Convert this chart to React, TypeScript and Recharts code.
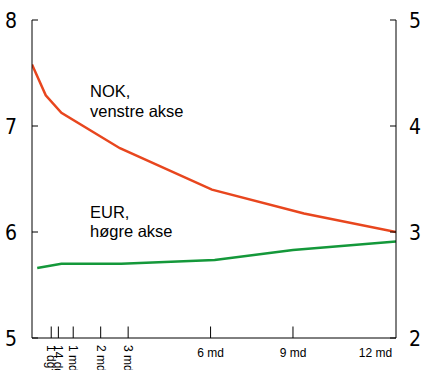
import { LineChart, Line, XAxis, YAxis } from "recharts";

// x in months (negative = very short end), y in percent
const nokMonths = [-0.5, 0, 0.57, 2.7, 6.05, 9.4, 12.75];
const nokRates = [7.58, 7.29, 7.125, 6.79, 6.4, 6.175, 6.0];
const eurMonths = [-0.31, 0.57, 2.75, 6.15, 9, 12.75];
const eurRates = [2.66, 2.7, 2.7, 2.736, 2.83, 2.91];

const xTicks = [0.2, 0.46, 1, 2, 3, 6, 9, 12];
const xTickLabels = ["1 dg", "14 dg", "1 md", "2 md", "3 md", "6 md", "9 md", "12 md"];
const leftTicks = [5, 6, 7, 8];
const rightTicks = [2, 3, 4, 5];

const nokData = nokMonths.map((m, i) => ({ m, nok: nokRates[i] }));
const eurData = eurMonths.map((m, i) => ({ m, eur: eurRates[i] }));

const SANS = "'Liberation Sans', Arial, sans-serif";
const NARROW = "'Liberation Sans Narrow', 'DejaVu Sans Condensed', 'Liberation Sans', sans-serif";

const LeftTick = ({ x, y, payload }: any) => (
  <g>
    <line x1={x} x2={x + 6} y1={y} y2={y} stroke="#000" />
    <text x={x - 15} y={y} dy={7.5} textAnchor="end" fontSize={21} fontFamily={NARROW} fill="#000">
      {payload.value}
    </text>
  </g>
);

const RightTick = ({ x, y, payload }: any) => (
  <g>
    <line x1={x - 6} x2={x} y1={y} y2={y} stroke="#000" />
    <text x={x + 13} y={y} dy={7.5} textAnchor="start" fontSize={21} fontFamily={NARROW} fill="#000">
      {payload.value}
    </text>
  </g>
);

const BottomTick = ({ x, y, payload }: any) => {
  const i = xTicks.indexOf(payload.value);
  const label = xTickLabels[i];
  const vertical = i < 5;
  const last = i === xTicks.length - 1;
  return (
    <g>
      {!last && <line x1={x} x2={x} y1={y} y2={y - 11.5} stroke="#000" />}
      {vertical ? (
        <text
          transform={`translate(${x - 4},${y + 7}) rotate(90)`}
          fontSize={12}
          fontFamily={SANS}
          fill="#000"
        >
          {label}
        </text>
      ) : (
        <text x={x} y={y + 18.5} textAnchor="middle" fontSize={12} fontFamily={SANS} fill="#000">
          {label}
        </text>
      )}
    </g>
  );
};

export default function App() {
  return (
    <div style={{ position: "absolute", left: 0, top: 0, width: 421, height: 370, background: "#fff" }}>
      <LineChart width={421} height={370} margin={{ top: 20, right: 0, left: 0, bottom: 0 }}>
        <XAxis
          dataKey="m"
          type="number"
          domain={[-0.5, 12.75]}
          ticks={xTicks}
          interval={0}
          height={32}
          tickSize={0}
          tickMargin={0}
          tickLine={false}
          axisLine={{ stroke: "#000" }}
          tick={(p: any) => <BottomTick {...p} />}
          allowDataOverflow
        />
        <XAxis
          xAxisId="top"
          orientation="top"
          dataKey="m"
          type="number"
          domain={[-0.5, 12.75]}
          height={0}
          tick={false}
          tickLine={false}
          axisLine={{ stroke: "#000" }}
        />
        <YAxis
          yAxisId="left"
          domain={[5, 8]}
          ticks={leftTicks}
          interval={0}
          width={32}
          tickSize={0}
          tickMargin={0}
          tickLine={false}
          axisLine={{ stroke: "#000" }}
          tick={(p: any) => <LeftTick {...p} />}
        />
        <YAxis
          yAxisId="right"
          orientation="right"
          domain={[2, 5]}
          ticks={rightTicks}
          interval={0}
          width={25}
          tickSize={0}
          tickMargin={0}
          tickLine={false}
          axisLine={{ stroke: "#000" }}
          tick={(p: any) => <RightTick {...p} />}
        />
        <Line
          yAxisId="left"
          data={nokData}
          dataKey="nok"
          type="linear"
          stroke="#e8461e"
          strokeWidth={2.5}
          dot={false}
          isAnimationActive={false}
        />
        <Line
          yAxisId="right"
          data={eurData}
          dataKey="eur"
          type="linear"
          stroke="#14983a"
          strokeWidth={2.5}
          dot={false}
          isAnimationActive={false}
        />
      </LineChart>
      <svg
        width={421}
        height={370}
        style={{ position: "absolute", left: 0, top: 0, pointerEvents: "none" }}
      >
        <g fontFamily={SANS} fontSize={16.5} fill="#000">
          <text x={90} y={97}>NOK,</text>
          <text x={90} y={117}>venstre akse</text>
          <text x={90} y={218}>EUR,</text>
          <text x={90} y={237}>høgre akse</text>
        </g>
      </svg>
    </div>
  );
}
